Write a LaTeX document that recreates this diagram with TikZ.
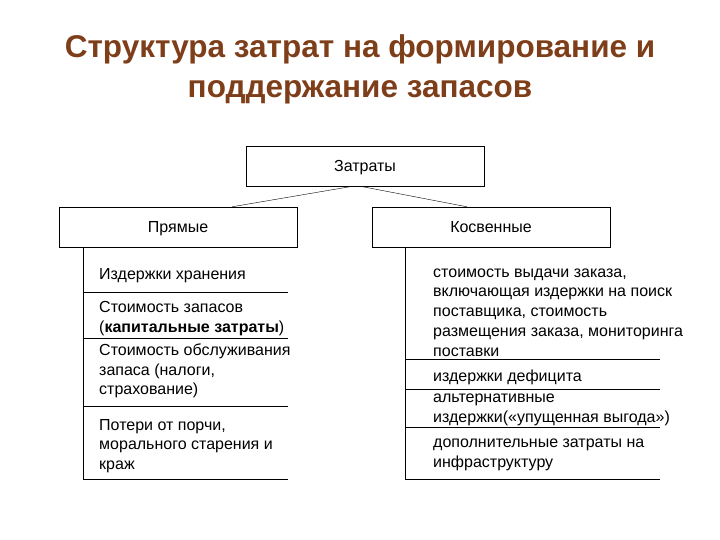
\documentclass[tikz,border=0pt]{standalone}
\usepackage{fontspec}
\setmainfont{Liberation Sans}
\usetikzlibrary{positioning}
\definecolor{titlebrown}{RGB}{125,62,25}
\tikzset{
  box/.style={draw, thin, minimum width=238pt, minimum height=40pt,
              text height=12pt, text depth=0pt,
              font=\fontsize{16}{19}\selectfont},
  item/.style={anchor=west, inner sep=0pt, align=left,
               font=\fontsize{16}{19.75}\selectfont},
}

\begin{document}
\begin{tikzpicture}[x=1pt,y=-1pt]
  \useasboundingbox (0,0) rectangle (720,540);
  % title
  \node[font=\bfseries\fontsize{31.5}{40}\selectfont, text=titlebrown, align=center]
    (title) at (360,69) {Структура затрат на формирование и\\поддержание запасов};
  % boxes
  \node[box] (zatr)  at (365,166) {Затраты};
  \node[box] (pryam) at (178,227) {Прямые};
  \node[box] (kosv)  at (491,227) {Косвенные};
  \draw ([xshift=-12pt]zatr.south) -- ([xshift=54pt]pryam.north);
  \draw ([xshift=-5pt]zatr.south) -- ([xshift=-24pt]kosv.north);
  % direct costs
  \draw ([xshift=-95pt]pryam.south) -- (83,479);
  \foreach \y in {292.5,338,406.5,479} \draw (83,\y) -- (288,\y);
  \node[item] (p1) at (99,276)   {Издержки хранения};
  \node[item] (p2) at (99,318.5) {Стоимость запасов\\(\textbf{капитальные затраты})};
  \node[item] (p3) at (99,371)   {Стоимость обслуживания\\запаса (налоги,\\страхование)};
  \node[item] (p4) at (99,446)   {Потери от порчи,\\морального старения и\\краж};
  % indirect costs
  \draw ([xshift=-86pt]kosv.south) -- (405,479);
  \foreach \y in {359,389,427,479} \draw (405,\y) -- (660,\y);
  \node[item] (k1) at (433,312.5) {стоимость выдачи заказа,\\включающая издержки на поиск\\поставщика, стоимость\\размещения заказа, мониторинга\\поставки};
  \node[item] (k2) at (433,377)   {издержки дефицита};
  \node[item] (k3) at (433,409.5) {альтернативные\\издержки(«упущенная выгода»)};
  \node[item] (k4) at (433,454.5) {дополнительные затраты на\\инфраструктуру};
\end{tikzpicture}
\end{document}
